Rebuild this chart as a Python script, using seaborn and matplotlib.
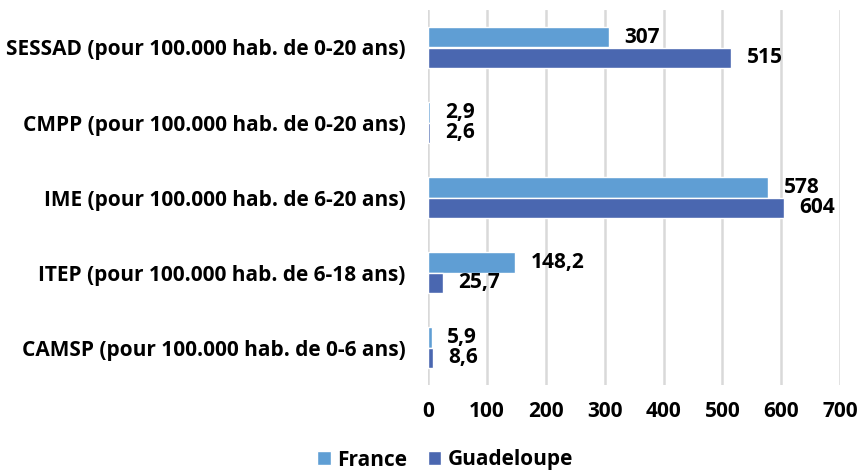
import numpy as np
import pandas as pd
import matplotlib.pyplot as plt
import seaborn as sns

categories = [
    "SESSAD (pour 100.000 hab. de 0-20 ans)",
    "CMPP (pour 100.000 hab. de 0-20 ans)",
    "IME (pour 100.000 hab. de 6-20 ans)",
    "ITEP (pour 100.000 hab. de 6-18 ans)",
    "CAMSP (pour 100.000 hab. de 0-6 ans)",
]
series = ["France", "Guadeloupe"]
france = [307, 2.9, 578, 148.2, 5.9]
guadeloupe = [515, 2.6, 604, 25.7, 8.6]
colors = ["#5F9ED4", "#4A67B0"]


def fmt(v):
    # french decimal comma
    if float(v).is_integer():
        return str(int(v))
    return str(v).replace(".", ",")


def main():
    sns.set_style("white")
    plt.rcParams["font.family"] = ["Open Sans", "DejaVu Sans"]
    plt.rcParams["font.weight"] = "bold"
    plt.rcParams["text.color"] = "black"
    plt.rcParams["xtick.color"] = "black"
    plt.rcParams["ytick.color"] = "black"

    df = pd.DataFrame(
        {
            "cat": categories * 2,
            "serie": [series[0]] * len(categories) + [series[1]] * len(categories),
            "val": france + guadeloupe,
        }
    )

    fig = plt.figure(figsize=(8.59, 4.75), dpi=100)
    ax = fig.add_subplot(111)
    fig.subplots_adjust(left=0.4983, right=0.978, top=0.979, bottom=0.189)

    sns.barplot(
        data=df,
        y="cat",
        x="val",
        hue="serie",
        hue_order=series,
        order=categories,
        palette=colors,
        saturation=1,
        width=0.54,
        orient="h",
        ax=ax,
        legend=True,
    )

    for cont, vals in zip(ax.containers, [france, guadeloupe]):
        ax.bar_label(
            cont,
            labels=[fmt(v) for v in vals],
            padding=11,
            fontsize=15,
            fontweight="bold",
            color="black",
        )

    ax.set_xlim(0, 700)
    ax.set_ylim(4.5, -0.5)
    ax.set_xticks(np.arange(0, 701, 100))
    ax.grid(axis="x", color="#D9D9D9", linewidth=1.8)
    ax.set_axisbelow(True)
    for s in ax.spines.values():
        s.set_visible(False)
    ax.tick_params(axis="both", length=0, labelsize=15)
    ax.tick_params(axis="x", pad=11)
    ax.tick_params(axis="y", pad=16)
    for t in ax.get_xticklabels() + ax.get_yticklabels():
        t.set_fontweight("bold")
    ax.set_xlabel("")
    ax.set_ylabel("")

    handles, labels = ax.get_legend_handles_labels()
    ax.get_legend().remove()
    fig.legend(
        handles,
        labels,
        loc="lower center",
        bbox_to_anchor=(0.518, -0.03),
        ncol=2,
        frameon=False,
        handlelength=0.65,
        handleheight=0.65,
        handletextpad=0.3,
        columnspacing=1.0,
        prop={"weight": "bold", "size": 15},
    )

    fig.savefig("out.png", dpi=100)


if __name__ == "__main__":
    main()
